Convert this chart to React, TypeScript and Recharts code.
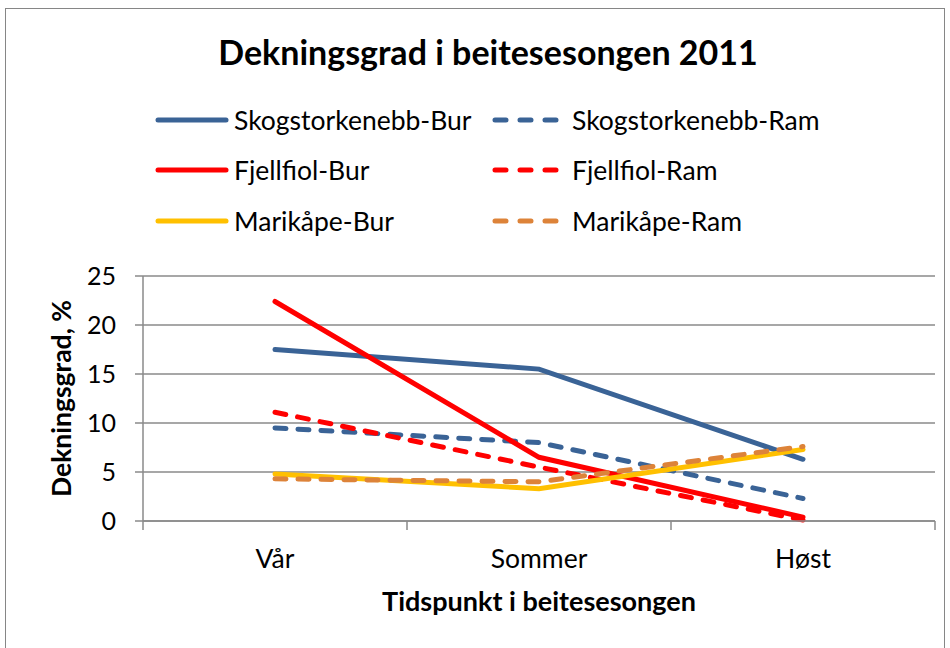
import React from 'react';
import { LineChart, Line, XAxis, YAxis, CartesianGrid, Label } from 'recharts';

const categories = ['Vår', 'Sommer', 'Høst'];
const skogBur = [17.5, 15.5, 6.3];
const skogRam = [9.5, 8.0, 2.3];
const fjellBur = [22.4, 6.5, 0.4];
const fjellRam = [11.1, 5.5, 0.1];
const mariBur = [4.8, 3.3, 7.3];
const mariRam = [4.3, 4.0, 7.6];
const yTicks = [0, 5, 10, 15, 20, 25];

const BLUE = '#3a6396';
const RED = '#ff0000';
const YELLOW = '#ffc000';
const ORANGE = '#dd8339';

const series = [
  { key: 'skogBur', name: 'Skogstorkenebb-Bur', values: skogBur, color: BLUE, dashed: false },
  { key: 'skogRam', name: 'Skogstorkenebb-Ram', values: skogRam, color: BLUE, dashed: true },
  { key: 'fjellBur', name: 'Fjellfiol-Bur', values: fjellBur, color: RED, dashed: false },
  { key: 'fjellRam', name: 'Fjellfiol-Ram', values: fjellRam, color: RED, dashed: true },
  { key: 'mariBur', name: 'Marikåpe-Bur', values: mariBur, color: YELLOW, dashed: false },
  { key: 'mariRam', name: 'Marikåpe-Ram', values: mariRam, color: ORANGE, dashed: true },
];

const data = categories.map((c, i) => {
  const row: Record<string, string | number> = { cat: c };
  series.forEach((s) => {
    row[s.key] = s.values[i];
  });
  return row;
});

const FONT = 'Lato, Calibri, sans-serif';
const GRID = '#8a8a8a';
const DASH = '11 12';
const X_TICK_SIZE = 0;
const X_TICK_MARGIN = 28;
const EDGE_TICK_LEN = 9;

function CategoryTick(props: any) {
  const { x, y, payload, index, visibleTicksCount } = props;
  const half = payload && typeof payload.offset === 'number' ? payload.offset : 0;
  const axisY = y - X_TICK_SIZE - X_TICK_MARGIN;
  const isLast = index === (visibleTicksCount ?? categories.length) - 1;
  return (
    <g>
      {half > 0 && (
        <line x1={x - half} y1={axisY} x2={x - half} y2={axisY + EDGE_TICK_LEN} stroke={GRID} strokeWidth={1.5} />
      )}
      {half > 0 && isLast && (
        <line x1={x + half} y1={axisY} x2={x + half} y2={axisY + EDGE_TICK_LEN} stroke={GRID} strokeWidth={1.5} />
      )}
      <text x={x} y={y} dy="0.71em" textAnchor="middle" fill="#000" fontSize={26.5} fontFamily={FONT}>
        {payload.value}
      </text>
    </g>
  );
}

function LegendBlock() {
  const rows = [0, 1, 2];
  const rowY = [120, 170, 221];
  return (
    <>
      {rows.map((r) => {
        const left = series[r * 2];
        const right = series[r * 2 + 1];
        return (
          <React.Fragment key={r}>
            <div style={{ position: 'absolute', left: 155, top: rowY[r] - 16, height: 32, display: 'flex', alignItems: 'center' }}>
              <svg width={74} height={12}>
                <line x1={3} y1={6} x2={71} y2={6} stroke={left.color} strokeWidth={5} strokeLinecap="round" />
              </svg>
              <span style={{ marginLeft: 5, fontFamily: FONT, fontSize: 26.5, color: '#000', whiteSpace: 'nowrap' }}>{left.name}</span>
            </div>
            <div style={{ position: 'absolute', left: 490, top: rowY[r] - 16, height: 32, display: 'flex', alignItems: 'center' }}>
              <svg width={70} height={12}>
                <line x1={5} y1={6} x2={66} y2={6} stroke={right.color} strokeWidth={5} strokeLinecap="round" strokeDasharray="11 14" />
              </svg>
              <span style={{ marginLeft: 12, fontFamily: FONT, fontSize: 26.5, color: '#000', whiteSpace: 'nowrap' }}>{right.name}</span>
            </div>
          </React.Fragment>
        );
      })}
    </>
  );
}

export default function App() {
  return (
    <div style={{ position: 'absolute', left: 0, top: 0, width: 950, height: 648, background: '#fff', overflow: 'hidden' }}>
      <div style={{ position: 'absolute', left: 5, top: 8, width: 940, height: 660, border: '1.5px solid #868686', boxSizing: 'border-box' }} />
      <div style={{ position: 'absolute', left: 0, top: 31, width: 976, textAlign: 'center', fontFamily: FONT, fontWeight: 700, fontSize: 34, color: '#000' }}>
        Dekningsgrad i beitesesongen 2011
      </div>
      <LegendBlock />
      <div style={{ position: 'absolute', left: 0, top: 0 }}>
        <LineChart width={950} height={648} data={data} margin={{ top: 276, right: 15, bottom: 27, left: 0 }}>
          <CartesianGrid vertical={false} stroke={GRID} strokeWidth={1.5} />
          <XAxis
            dataKey="cat"
            scale="band"
            height={100}
            tickLine={false}
            tickSize={X_TICK_SIZE}
            tickMargin={X_TICK_MARGIN}
            axisLine={{ stroke: GRID, strokeWidth: 1.5 }}
            tick={<CategoryTick />}
            interval={0}
          >
            <Label
              value="Tidspunkt i beitesesongen"
              position="insideBottom"
              offset={10}
              style={{ fill: '#000', fontSize: 27, fontWeight: 700, fontFamily: FONT }}
            />
          </XAxis>
          <YAxis
            width={143}
            domain={[0, 25]}
            ticks={yTicks}
            interval={0}
            tickSize={8}
            tickMargin={19}
            axisLine={{ stroke: GRID, strokeWidth: 1.5 }}
            tickLine={{ stroke: GRID, strokeWidth: 1.5 }}
            tick={{ fill: '#000', fontSize: 25, fontFamily: FONT }}
          >
            <Label
              value="Dekningsgrad, %"
              angle={-90}
              position="insideLeft"
              offset={62}
              style={{ fill: '#000', fontSize: 26.5, fontWeight: 700, fontFamily: FONT, textAnchor: 'middle' }}
            />
          </YAxis>
          {series.map((s) => (
            <Line
              key={s.key}
              dataKey={s.key}
              name={s.name}
              stroke={s.color}
              strokeWidth={5}
              strokeLinecap="round"
              strokeDasharray={s.dashed ? DASH : undefined}
              dot={false}
              activeDot={false}
              isAnimationActive={false}
            />
          ))}
        </LineChart>
      </div>
    </div>
  );
}
